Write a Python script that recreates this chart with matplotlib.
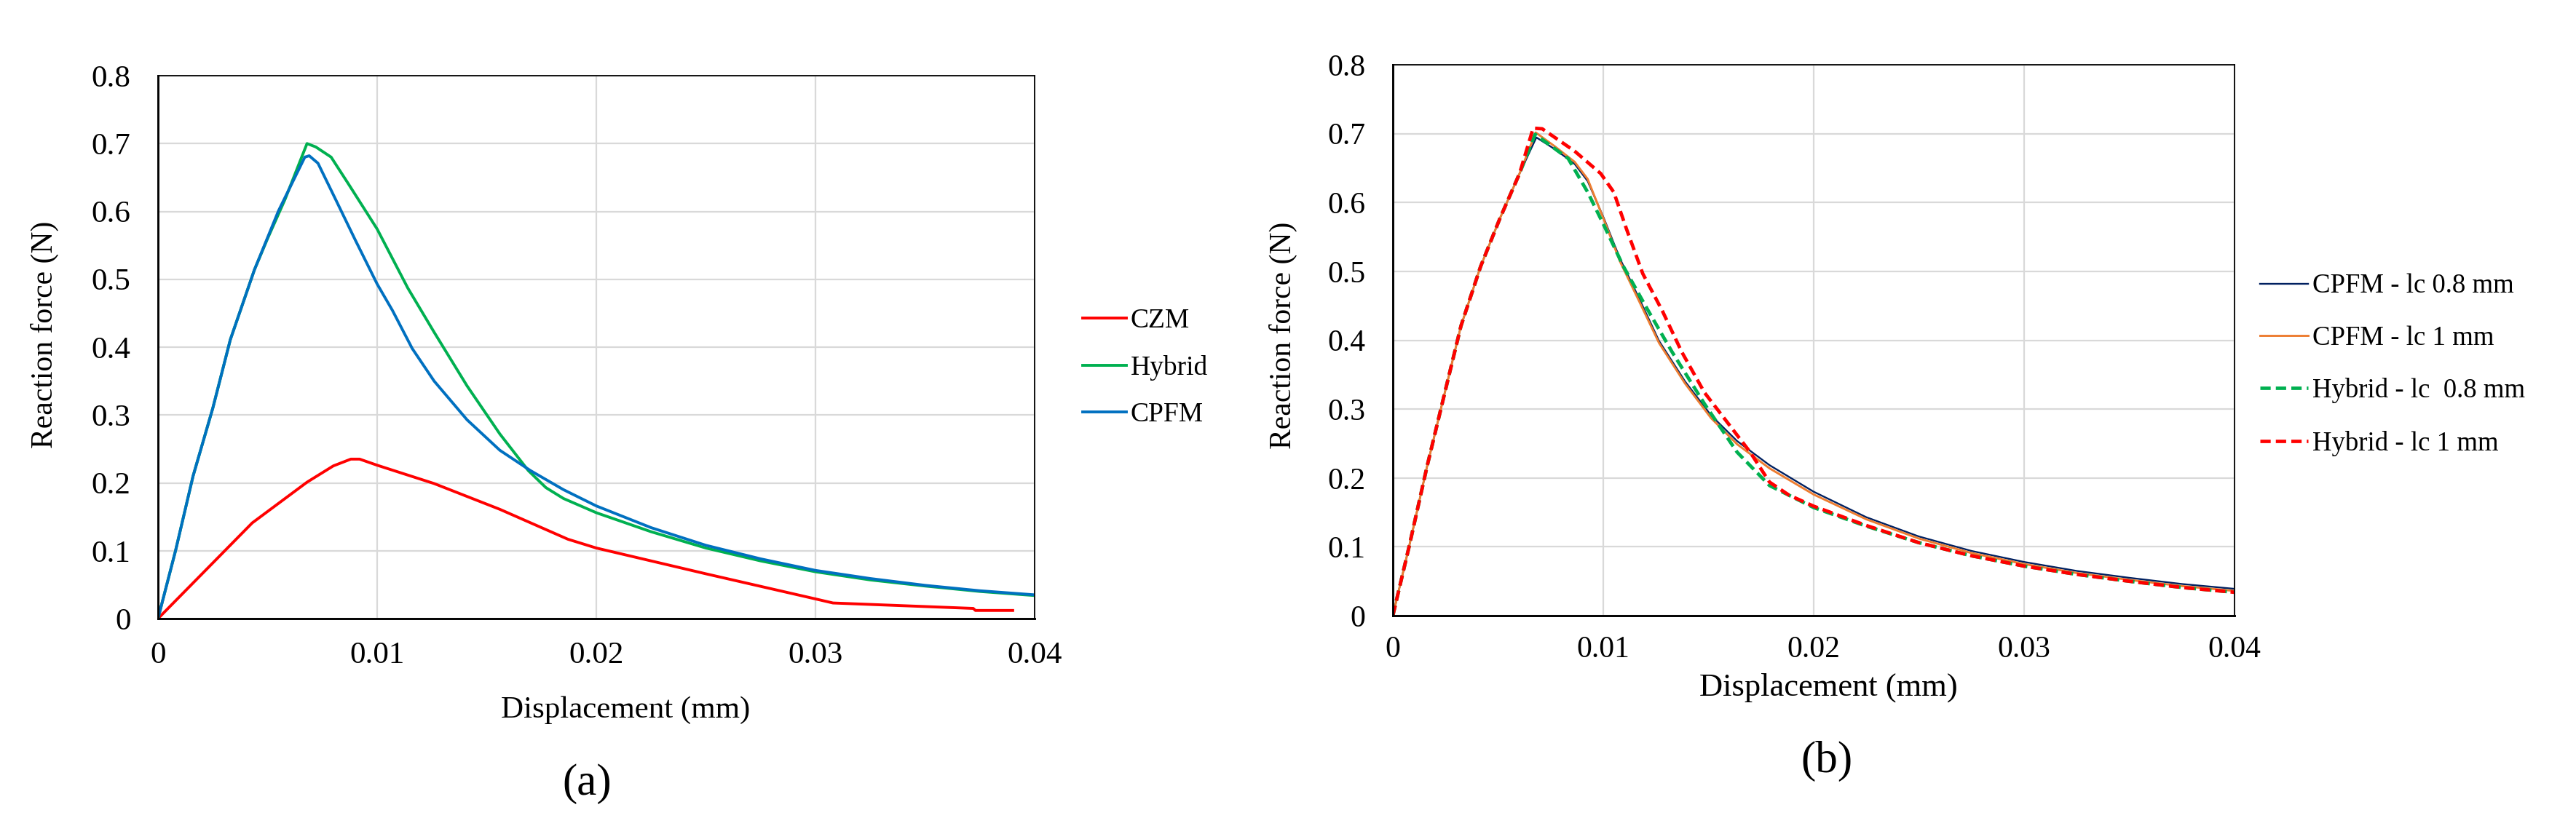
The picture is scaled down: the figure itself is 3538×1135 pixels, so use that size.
import matplotlib
matplotlib.use("Agg")
import matplotlib.pyplot as plt
import numpy as np

plt.rcParams["font.family"] = ["Liberation Serif", "DejaVu Serif"]

# ---------------------------------------------------------------------------
# (a) CZM / Hybrid / CPFM
# ---------------------------------------------------------------------------
czm_x = [0, 0.0043, 0.0068, 0.0080, 0.0088, 0.0092, 0.0100, 0.0126, 0.0156,
         0.0187, 0.0200, 0.0250, 0.0300, 0.0308, 0.0340, 0.0372, 0.0373, 0.0390]
czm_y = [0, 0.141, 0.201, 0.225, 0.235, 0.235, 0.226, 0.199, 0.161,
         0.117, 0.104, 0.066, 0.029, 0.023, 0.019, 0.015, 0.012, 0.012]

hyb_x = [0, 0.0008, 0.0016, 0.0025, 0.0033, 0.0044, 0.0050, 0.0058, 0.0068,
         0.0072, 0.0079, 0.0087, 0.0100, 0.0114, 0.0126, 0.0141, 0.0156, 0.0169,
         0.0177, 0.0185, 0.0200, 0.0225, 0.0250, 0.0275, 0.0300, 0.0325, 0.0350,
         0.0375, 0.0400]
hyb_y = [0, 0.100, 0.210, 0.310, 0.411, 0.514, 0.560, 0.618, 0.700,
         0.695, 0.680, 0.640, 0.574, 0.487, 0.422, 0.343, 0.272, 0.218,
         0.193, 0.177, 0.156, 0.128, 0.104, 0.085, 0.069, 0.057, 0.048,
         0.040, 0.034]

cpfm_x = [0, 0.0008, 0.0016, 0.0025, 0.0033, 0.0044, 0.0055, 0.0067, 0.0069,
          0.0073, 0.0081, 0.0090, 0.0100, 0.0107, 0.0116, 0.0126, 0.0141, 0.0156,
          0.0170, 0.0185, 0.0200, 0.0225, 0.0250, 0.0275, 0.0300, 0.0325, 0.0350,
          0.0375, 0.0400]
cpfm_y = [0, 0.100, 0.210, 0.310, 0.411, 0.514, 0.601, 0.680, 0.682,
          0.671, 0.618, 0.558, 0.493, 0.454, 0.398, 0.350, 0.293, 0.248,
          0.218, 0.190, 0.166, 0.134, 0.108, 0.088, 0.071, 0.059, 0.049,
          0.041, 0.035]

# ---------------------------------------------------------------------------
# (b) mesh size comparison
# ---------------------------------------------------------------------------
rise_x = [0, 0.00077, 0.00162, 0.00247, 0.00324, 0.00417, 0.00509, 0.00602]
rise_y = [0, 0.100, 0.216, 0.324, 0.421, 0.507, 0.577, 0.642]

c08_x = rise_x + [0.00682, 0.00772, 0.00864, 0.00926, 0.01003, 0.0108, 0.01173,
                  0.01265, 0.01389, 0.01512, 0.01636, 0.0179, 0.0200, 0.0225,
                  0.0250, 0.0275, 0.0300, 0.0325, 0.0350, 0.0375, 0.0400]
c08_y = rise_y + [0.6945, 0.677, 0.656, 0.631, 0.577, 0.518, 0.459,
                  0.399, 0.340, 0.291, 0.2536, 0.2186, 0.180, 0.143,
                  0.115, 0.094, 0.078, 0.065, 0.055, 0.046, 0.039]

c1_x = rise_x + [0.00679, 0.00772, 0.00864, 0.00926, 0.01003, 0.0108, 0.01173,
                 0.01265, 0.01389, 0.01512, 0.01636, 0.0179, 0.0200, 0.0225,
                 0.0250, 0.0275, 0.0300, 0.0325, 0.0350, 0.0375, 0.0400]
c1_y = rise_y + [0.7016, 0.681, 0.659, 0.634, 0.575, 0.514, 0.455,
                 0.396, 0.337, 0.287, 0.249, 0.214, 0.176, 0.140,
                 0.112, 0.091, 0.075, 0.062, 0.052, 0.043, 0.036]

h08_x = rise_x + [0.00676, 0.00833, 0.00926, 0.01003, 0.01096, 0.01204, 0.01327,
                  0.01481, 0.01636, 0.0179, 0.0200, 0.0225, 0.0250, 0.0275,
                  0.0300, 0.0325, 0.0350, 0.0375, 0.0400]
h08_y = rise_y + [0.699, 0.664, 0.615, 0.567, 0.507, 0.448, 0.383,
                  0.3076, 0.2375, 0.189, 0.157, 0.130, 0.106, 0.087,
                  0.072, 0.060, 0.050, 0.041, 0.034]

h1_x = rise_x + [0.00667, 0.0071, 0.00864, 0.00988, 0.0105, 0.01111, 0.01188,
                 0.01281, 0.01373, 0.01481, 0.0159, 0.01698, 0.0179, 0.01883,
                 0.0200, 0.0225, 0.0250, 0.0275, 0.0300, 0.0325, 0.0350, 0.0375,
                 0.0400]
h1_y = rise_y + [0.708, 0.707, 0.6746, 0.642, 0.615, 0.561, 0.4965,
                 0.4425, 0.383, 0.324, 0.2806, 0.2375, 0.194, 0.175,
                 0.159, 0.131, 0.106, 0.087, 0.072, 0.060, 0.050, 0.041,
                 0.034]

xticks = [0, 0.01, 0.02, 0.03, 0.04]
xtick_labels = ["0", "0.01", "0.02", "0.03", "0.04"]
yticks = [0, 0.1, 0.2, 0.3, 0.4, 0.5, 0.6, 0.7, 0.8]
ytick_labels = ["0", "0.1", "0.2", "0.3", "0.4", "0.5", "0.6", "0.7", "0.8"]

W, H = 3538, 1135
fig = plt.figure(figsize=(W / 100, H / 100), dpi=100)

ax_a = fig.add_axes([217 / W, 1 - 850 / H, (1421 - 217) / W, (850 - 104) / H])
ax_b = fig.add_axes([1913 / W, 1 - 846 / H, (3069 - 1913) / W, (846 - 89) / H])


def style_axes(ax, tick_size, xpad):
    ax.set_xlim(0, 0.04)
    ax.set_ylim(0, 0.8)
    ax.set_xticks(xticks)
    ax.set_xticklabels(xtick_labels)
    ax.set_yticks(yticks)
    ax.set_yticklabels(ytick_labels)
    ax.tick_params(axis="both", length=0, labelsize=tick_size)
    ax.tick_params(axis="x", pad=xpad)
    ax.tick_params(axis="y", pad=27)
    ax.grid(True, color="#d9d9d9", linewidth=1.6)
    ax.set_axisbelow(True)
    for side in ["top", "right"]:
        ax.spines[side].set_linewidth(1.3)
    for side in ["left", "bottom"]:
        ax.spines[side].set_linewidth(2.1)


style_axes(ax_a, 31, 23)
style_axes(ax_b, 30, 20)

# --- panel (a)
ax_a.plot(czm_x, czm_y, color="#ff0000", linewidth=2.8, label="CZM")
ax_a.plot(hyb_x, hyb_y, color="#00b050", linewidth=2.8, label="Hybrid")
ax_a.plot(cpfm_x, cpfm_y, color="#0070c0", linewidth=2.8, label="CPFM")
ax_a.set_xlabel("Displacement (mm)", fontsize=31)
ax_a.xaxis.set_label_coords(0.533, -0.169)
ax_a.xaxis.label.set_va("center")
ax_a.set_ylabel("Reaction force (N)", fontsize=30)
ax_a.yaxis.set_label_coords(-0.129, 0.523)
ax_a.yaxis.label.set_va("center")
ax_a.legend(loc="upper left", bbox_to_anchor=(1487 / W, 1 - 424 / H),
            bbox_transform=fig.transFigure, frameon=False, fontsize=27,
            handlelength=1.6, handletextpad=0.15, borderpad=0,
            borderaxespad=0, labelspacing=0.79)

# --- panel (b)
ax_b.plot(c08_x, c08_y, color="#002060", linewidth=1.7, label="CPFM - lc 0.8 mm")
ax_b.plot(c1_x, c1_y, color="#ed7d31", linewidth=2.1, label="CPFM - lc 1 mm")
ax_b.plot(h08_x, h08_y, color="#00b050", linewidth=3.4, dashes=(3.0, 1.5),
          label="Hybrid - lc  0.8 mm")
ax_b.plot(h1_x, h1_y, color="#ff0000", linewidth=3.4, dashes=(3.0, 1.5),
          label="Hybrid - lc 1 mm")
ax_b.set_xlabel("Displacement (mm)", fontsize=32)
ax_b.xaxis.set_label_coords(0.518, -0.131)
ax_b.xaxis.label.set_va("center")
ax_b.set_ylabel("Reaction force (N)", fontsize=30)
ax_b.yaxis.set_label_coords(-0.130, 0.509)
ax_b.yaxis.label.set_va("center")
ax_b.legend(loc="upper left", bbox_to_anchor=(3104 / W, 1 - 376 / H),
            bbox_transform=fig.transFigure, frameon=False, fontsize=26.5,
            handlelength=1.8, handletextpad=0.15, borderpad=0,
            borderaxespad=0, labelspacing=1.01)

fig.text(806 / W, 1 - 1077 / H, "(a)", fontsize=44, ha="center", va="center")
fig.text(2509 / W, 1 - 1046 / H, "(b)", fontsize=44, ha="center", va="center")

fig.savefig("out.png", dpi=100)
